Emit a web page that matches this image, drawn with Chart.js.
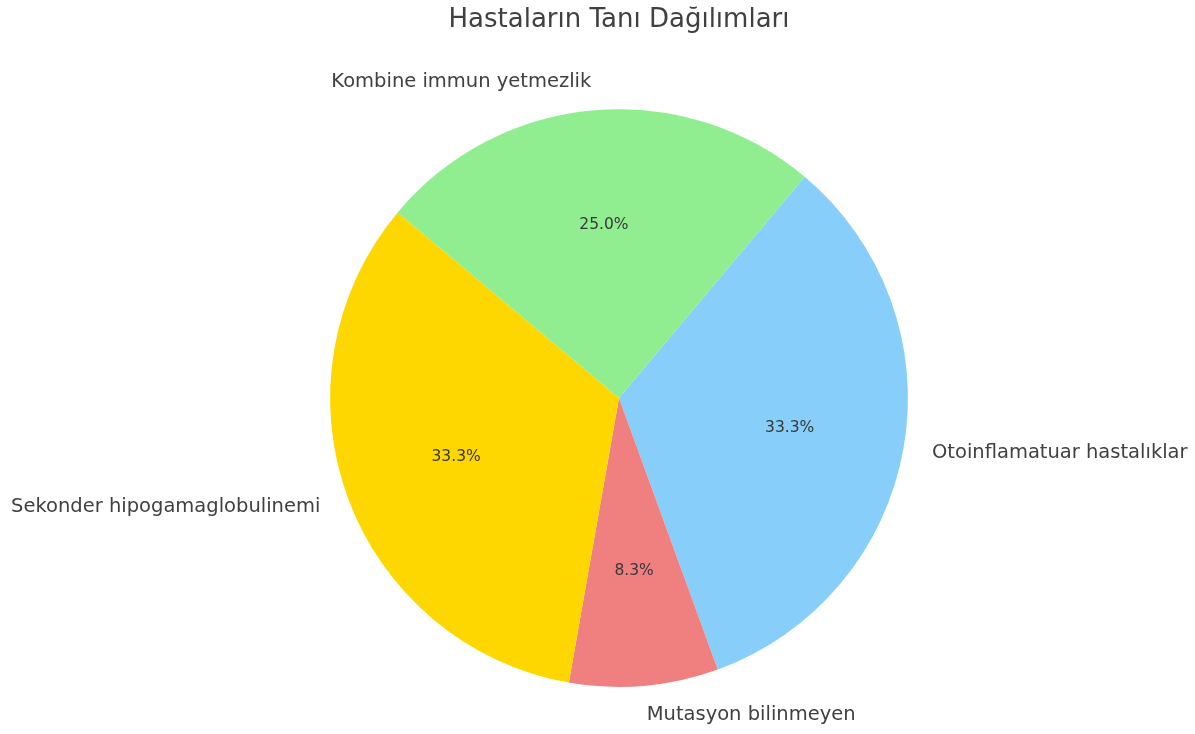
<!DOCTYPE html>
<html>
<head>
<meta charset="utf-8">
<script src="https://cdn.jsdelivr.net/npm/chart.js@4/dist/chart.umd.min.js"></script>
<style>
  html, body { margin: 0; padding: 0; background: #fff; }
  #wrap { width: 1195px; height: 734px; }
</style>
</head>
<body>
<div id="wrap"><canvas id="taniChart" width="1195" height="734"></canvas></div>
<script>
// diagnosis groups, listed clockwise from the upper right
const categories = ['Otoinflamatuar hastalıklar', 'Mutasyon bilinmeyen', 'Sekonder hipogamaglobulinemi', 'Kombine immun yetmezlik'];
const patientCounts = [4, 1, 4, 3];
const sliceColors = ['#87CEFA', '#F08080', '#FFD700', '#90EE90'];

const FONT = '"DejaVu Sans", sans-serif';

// matplotlib-like labels: name at 1.1r, percent at 0.6r
const pieLabels = {
    id: 'pieLabels',
    afterDatasetsDraw(chart) {
        const ctx = chart.ctx;
        const meta = chart.getDatasetMeta(0);
        const data = chart.data.datasets[0].data;
        const total = data.reduce((a, b) => a + b, 0);
        ctx.save();
        meta.data.forEach((arc, i) => {
            const mid = (arc.startAngle + arc.endAngle) / 2;
            const r = arc.outerRadius;
            const c = Math.cos(mid), s = Math.sin(mid);

            ctx.font = '19.5px ' + FONT;
            ctx.fillStyle = '#404040';
            ctx.textBaseline = 'middle';
            ctx.textAlign = c > 0 ? 'left' : 'right';
            ctx.fillText(chart.data.labels[i], arc.x + 1.1 * r * c, arc.y + 1.1 * r * s);

            ctx.font = '15.5px ' + FONT;
            ctx.fillStyle = '#383838';
            ctx.textAlign = 'center';
            const pct = (data[i] / total * 100).toFixed(1) + '%';
            ctx.fillText(pct, arc.x + 0.6 * r * c, arc.y + 0.6 * r * s);
        });
        ctx.restore();
    }
};

new Chart(document.getElementById('taniChart').getContext('2d'), {
    type: 'pie',
    data: {
        labels: categories,
        datasets: [{
            data: patientCounts,
            backgroundColor: sliceColors,
            borderWidth: 0,
            hoverOffset: 0
        }]
    },
    options: {
        responsive: false,
        animation: false,
        rotation: 40,
        layout: { padding: { top: 0, left: 319, right: 276, bottom: 47 } },
        plugins: {
            legend: { display: false },
            tooltip: { enabled: false },
            title: {
                display: true,
                text: 'Hastaların Tanı Dağılımları',
                color: '#404040',
                font: { family: FONT, size: 26, weight: 'normal' },
                padding: { top: 5, bottom: 73 }
            }
        }
    },
    plugins: [pieLabels]
});
</script>
</body>
</html>
